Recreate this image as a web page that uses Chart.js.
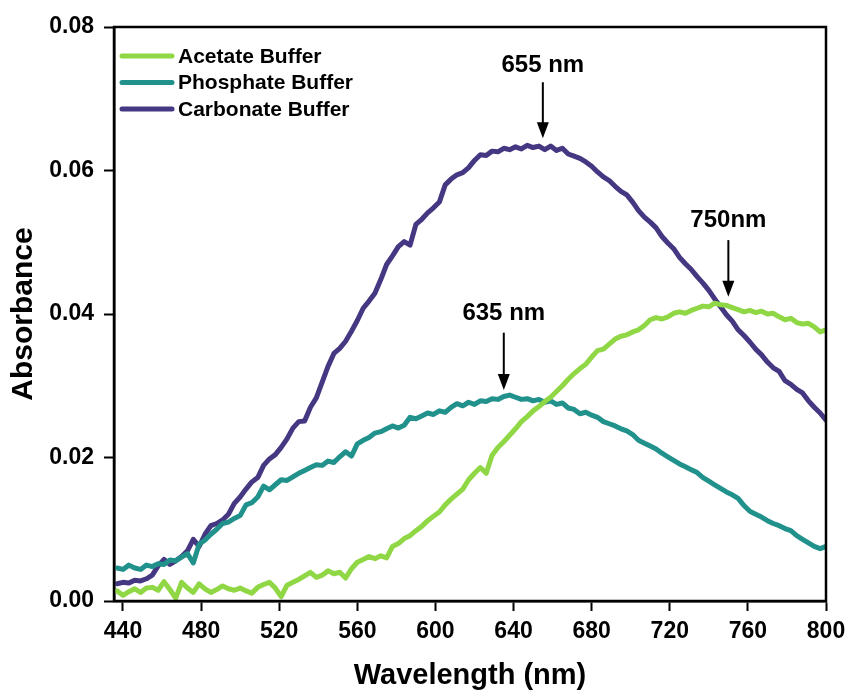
<!DOCTYPE html>
<html>
<head>
<meta charset="utf-8">
<title>Absorbance spectra</title>
<script src="https://cdn.jsdelivr.net/npm/chart.js@4.4.1/dist/chart.umd.min.js"></script>
<style>
  html, body { margin: 0; padding: 0; background: #fff; }
  #wrap { width: 850px; height: 693px; }
</style>
</head>
<body>
<div id="wrap"><canvas id="spectra" width="850" height="693"></canvas></div>
<script>
/* ===== Data: absorbance vs wavelength (nm) ===== */

const wavelengths = [
  437, 440, 443, 446, 449, 452, 455, 458, 461, 464, 467, 470, 473, 476, 479, 482, 485, 488, 491, 494,
  497, 500, 503, 506, 509, 512, 515, 518, 521, 524, 527, 530, 533, 536, 539, 542, 545, 548, 551, 554,
  557, 560, 563, 566, 569, 572, 575, 578, 581, 584, 587, 590, 593, 596, 599, 602, 605, 608, 611, 614,
  617, 620, 623, 626, 629, 632, 635, 638, 641, 644, 647, 650, 653, 656, 659, 662, 665, 668, 671, 674,
  677, 680, 683, 686, 689, 692, 695, 698, 701, 704, 707, 710, 713, 716, 719, 722, 725, 728, 731, 734,
  737, 740, 743, 746, 749, 752, 755, 758, 761, 764, 767, 770, 773, 776, 779, 782, 785, 788, 791, 794,
  797, 800
];

const acetate = [
  0.0014, 0.0008, 0.0013, 0.0017, 0.0012, 0.0018, 0.0019, 0.0015, 0.0027, 0.0016, 0.0004, 0.0026, 0.0018, 0.0012, 0.0024, 0.0017, 0.0012, 0.0016, 0.0021, 0.0017,
  0.0015, 0.0018, 0.0014, 0.0011, 0.0019, 0.0023, 0.0026, 0.0018, 0.0006, 0.0022, 0.0026, 0.0030, 0.0035, 0.0040, 0.0033, 0.0036, 0.0042, 0.0038, 0.0040, 0.0032,
  0.0045, 0.0054, 0.0058, 0.0062, 0.0059, 0.0063, 0.0060, 0.0076, 0.0080, 0.0087, 0.0091, 0.0098, 0.0104, 0.0112, 0.0118, 0.0124, 0.0134, 0.0142, 0.0149, 0.0156,
  0.0169, 0.0178, 0.0186, 0.0178, 0.0203, 0.0214, 0.0222, 0.0231, 0.0240, 0.0250, 0.0257, 0.0265, 0.0271, 0.0278, 0.0284, 0.0292, 0.0300, 0.0309, 0.0317, 0.0324,
  0.0330, 0.0340, 0.0349, 0.0351, 0.0358, 0.0365, 0.0369, 0.0371, 0.0375, 0.0378, 0.0384, 0.0392, 0.0395, 0.0393, 0.0396, 0.0401, 0.0403, 0.0401, 0.0405, 0.0408,
  0.0411, 0.0410, 0.0415, 0.0413, 0.0412, 0.0409, 0.0406, 0.0403, 0.0405, 0.0402, 0.0404, 0.0400, 0.0401, 0.0396, 0.0392, 0.0394, 0.0388, 0.0386, 0.0387, 0.0382,
  0.0375, 0.0378
];

const phosphate = [
  0.0046, 0.0044, 0.0050, 0.0046, 0.0044, 0.0050, 0.0048, 0.0052, 0.0051, 0.0057, 0.0056, 0.0061, 0.0066, 0.0053, 0.0079, 0.0085, 0.0093, 0.0100, 0.0108, 0.0110,
  0.0115, 0.0119, 0.0134, 0.0137, 0.0145, 0.0160, 0.0155, 0.0162, 0.0169, 0.0168, 0.0173, 0.0178, 0.0182, 0.0186, 0.0190, 0.0189, 0.0195, 0.0193, 0.0201, 0.0208,
  0.0202, 0.0219, 0.0224, 0.0228, 0.0234, 0.0236, 0.0240, 0.0244, 0.0241, 0.0245, 0.0256, 0.0254, 0.0258, 0.0262, 0.0260, 0.0265, 0.0263, 0.0270, 0.0275, 0.0272,
  0.0277, 0.0274, 0.0279, 0.0278, 0.0282, 0.0281, 0.0285, 0.0287, 0.0284, 0.0281, 0.0282, 0.0279, 0.0281, 0.0277, 0.0279, 0.0274, 0.0276, 0.0269, 0.0267, 0.0261,
  0.0263, 0.0259, 0.0256, 0.0250, 0.0247, 0.0244, 0.0240, 0.0237, 0.0232, 0.0224, 0.0220, 0.0216, 0.0212, 0.0206, 0.0201, 0.0196, 0.0191, 0.0187, 0.0183, 0.0179,
  0.0172, 0.0167, 0.0162, 0.0157, 0.0152, 0.0148, 0.0143, 0.0133, 0.0125, 0.0121, 0.0117, 0.0112, 0.0108, 0.0105, 0.0101, 0.0098, 0.0091, 0.0086, 0.0081, 0.0076,
  0.0073, 0.0076
];

const carbonate = [
  0.0024, 0.0026, 0.0025, 0.0029, 0.0028, 0.0031, 0.0036, 0.0049, 0.0058, 0.0051, 0.0056, 0.0062, 0.0070, 0.0086, 0.0076, 0.0093, 0.0105, 0.0108, 0.0113, 0.0121,
  0.0136, 0.0145, 0.0156, 0.0166, 0.0172, 0.0189, 0.0198, 0.0204, 0.0214, 0.0226, 0.0241, 0.0250, 0.0251, 0.0270, 0.0283, 0.0305, 0.0327, 0.0345, 0.0352, 0.0362,
  0.0376, 0.0391, 0.0408, 0.0418, 0.0429, 0.0448, 0.0469, 0.0481, 0.0494, 0.0501, 0.0496, 0.0525, 0.0532, 0.0541, 0.0548, 0.0556, 0.0580, 0.0588, 0.0594, 0.0597,
  0.0604, 0.0614, 0.0622, 0.0621, 0.0627, 0.0626, 0.0631, 0.0629, 0.0633, 0.0630, 0.0635, 0.0632, 0.0634, 0.0629, 0.0634, 0.0628, 0.0631, 0.0623, 0.0620, 0.0617,
  0.0612, 0.0606, 0.0598, 0.0591, 0.0586, 0.0578, 0.0571, 0.0566, 0.0556, 0.0544, 0.0535, 0.0528, 0.0520, 0.0508, 0.0499, 0.0491, 0.0479, 0.0470, 0.0462, 0.0452,
  0.0443, 0.0433, 0.0421, 0.0410, 0.0399, 0.0390, 0.0378, 0.0370, 0.0361, 0.0351, 0.0343, 0.0333, 0.0325, 0.0320, 0.0307, 0.0302, 0.0295, 0.0290, 0.0279, 0.0270,
  0.0262, 0.0252
];

const seriesNames = ["Acetate Buffer", "Phosphate Buffer", "Carbonate Buffer"];
const seriesColors = ["#8fd744", "#21918c", "#453781"];

const xTicks = [440, 480, 520, 560, 600, 640, 680, 720, 760, 800];
const yTicks = [0, 0.02, 0.04, 0.06, 0.08];

// peak markers: label, wavelength, arrow tail/tip and label height (absorbance units)
const peakLabels = ["655 nm", "750nm", "635 nm"];
const peakNm = [655, 750, 635];
const peakTail = [0.0723, 0.0503, 0.0374];
const peakTip = [0.0645, 0.0424, 0.0294];
const peakText = [0.0746, 0.0531, 0.0401];

/* ===== Helpers ===== */
const FONT = "'Liberation Sans', Arial, sans-serif";

function toPoints(ys) {
    return wavelengths.map((x, i) => ({ x, y: ys[i] }));
}

/* ===== Plugins ===== */
const frameBox = {
    id: "frameBox",
    afterDraw(chart) {
        const { ctx, chartArea: a } = chart;
        ctx.save();
        ctx.strokeStyle = "#000";
        ctx.lineWidth = 2.5;
        ctx.strokeRect(a.left, a.top, a.right - a.left, a.bottom - a.top);
        ctx.restore();
    }
};

const peakArrows = {
    id: "peakArrows",
    afterDatasetsDraw(chart) {
        const { ctx, scales: { x, y } } = chart;
        ctx.save();
        ctx.fillStyle = "#000";
        ctx.strokeStyle = "#000";
        ctx.font = "bold 24px " + FONT;
        ctx.textAlign = "center";
        ctx.textBaseline = "middle";
        peakLabels.forEach((label, i) => {
            const px = x.getPixelForValue(peakNm[i]);
            const yTail = y.getPixelForValue(peakTail[i]);
            const yTip = y.getPixelForValue(peakTip[i]);
            ctx.fillText(label, px, y.getPixelForValue(peakText[i]));

            ctx.lineWidth = 2;
            ctx.beginPath();
            ctx.moveTo(px, yTail);
            ctx.lineTo(px, yTip - 12);
            ctx.stroke();

            ctx.beginPath();
            ctx.moveTo(px - 6, yTip - 16);
            ctx.lineTo(px + 6, yTip - 16);
            ctx.lineTo(px, yTip);
            ctx.closePath();
            ctx.fill();
        });
        ctx.restore();
    }
};

const insideLegend = {
    id: "insideLegend",
    afterDraw(chart) {
        const { ctx, chartArea: a } = chart;
        ctx.save();
        ctx.font = "bold 21px " + FONT;
        ctx.textBaseline = "middle";
        ctx.lineCap = "round";
        ctx.lineWidth = 5;
        seriesNames.forEach((name, i) => {
            const yy = a.top + 29 + i * 26.5;
            ctx.strokeStyle = seriesColors[i];
            ctx.beginPath();
            ctx.moveTo(a.left + 8, yy);
            ctx.lineTo(a.left + 58, yy);
            ctx.stroke();
            ctx.fillStyle = "#000";
            ctx.fillText(name, a.left + 64, yy + 1);
        });
        ctx.restore();
    }
};

/* ===== Chart ===== */
const datasets = [acetate, phosphate, carbonate].map((ys, i) => ({
    label: seriesNames[i],
    data: toPoints(ys),
    borderColor: seriesColors[i],
    borderWidth: 5,
    pointRadius: 0,
    tension: 0,
    borderJoinStyle: "round",
    borderCapStyle: "round"
}));

new Chart(document.getElementById("spectra"), {
    type: "line",
    data: { datasets },
    plugins: [frameBox, peakArrows, insideLegend],
    options: {
        responsive: false,
        animation: false,
        layout: { padding: { top: 27, right: 24, left: 0, bottom: 0 } },
        plugins: {
            legend: { display: false },
            tooltip: { enabled: false }
        },
        scales: {
            x: {
                type: "linear",
                min: 435.4,
                max: 800,
                afterFit(scale) {
                    scale.height = 92;
                    scale.paddingLeft = 0;
                    scale.paddingRight = 0;
                },
                afterBuildTicks(scale) { scale.ticks = xTicks.map(v => ({ value: v })); },
                grid: { drawOnChartArea: false, drawTicks: true, tickLength: 10, tickWidth: 2, tickColor: "#000" },
                border: { display: true, color: "#000", width: 2.5 },
                ticks: {
                    color: "#000",
                    font: { family: FONT, size: 23, weight: "bold" },
                    padding: 7,
                    maxRotation: 0
                },
                title: {
                    display: true,
                    text: "Wavelength (nm)",
                    color: "#000",
                    font: { family: FONT, size: 29, weight: "bold" },
                    padding: { top: 0, bottom: 0 }
                }
            },
            y: {
                min: 0,
                max: 0.08,
                afterFit(scale) {
                    scale.width = 114;
                    scale.paddingTop = 0;
                    scale.paddingBottom = 0;
                },
                afterBuildTicks(scale) { scale.ticks = yTicks.map(v => ({ value: v })); },
                grid: { drawOnChartArea: false, drawTicks: true, tickLength: 10, tickWidth: 2, tickColor: "#000" },
                border: { display: true, color: "#000", width: 2.5 },
                ticks: {
                    color: "#000",
                    font: { family: FONT, size: 23, weight: "bold" },
                    padding: 10,
                    callback: v => v.toFixed(2)
                },
                title: {
                    display: true,
                    text: "Absorbance",
                    color: "#000",
                    font: { family: FONT, size: 30, weight: "bold" },
                    padding: { top: 6, bottom: 0 }
                }
            }
        }
    }
});
</script>
</body>
</html>
